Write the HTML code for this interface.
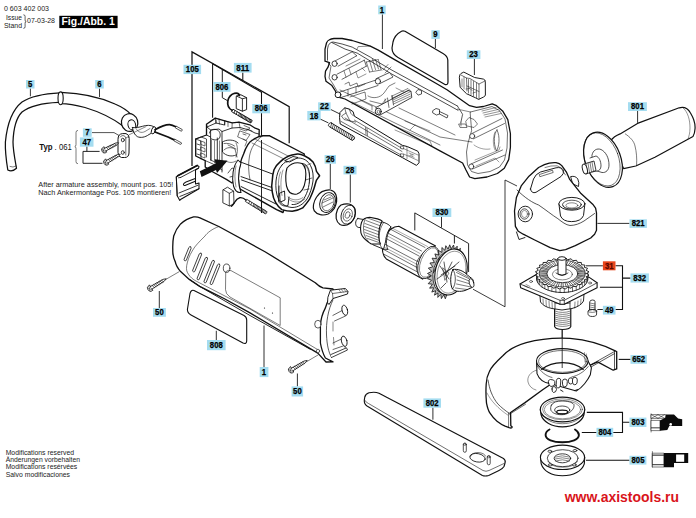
<!DOCTYPE html>
<html><head><meta charset="utf-8"><style>
html,body{margin:0;padding:0;background:#fff;width:696px;height:518px;overflow:hidden}
svg{display:block}
text{font-family:"Liberation Sans",sans-serif}
.lb{font-size:8.7px;font-weight:bold;text-anchor:middle;fill:#000;stroke:#000;stroke-width:0.25px}
.t{font-size:7.4px;fill:#222}
.s{fill:none;stroke:#111;stroke-linejoin:round;stroke-linecap:round}
.w{fill:#fff;stroke:#111;stroke-linejoin:round;stroke-linecap:round}
.th{fill:none;stroke:#222}
.ld{fill:none;stroke:#111}
</style></head><body>
<svg width="696" height="518" viewBox="0 0 696 518" stroke-width="0.9">
<text x="4" y="11.2" class="t" style="font-size:7.9px" textLength="45" lengthAdjust="spacingAndGlyphs">0 603 402 003</text>
<text x="6" y="20.3" class="t" style="font-size:7.9px" textLength="16" lengthAdjust="spacingAndGlyphs">Issue</text>
<text x="4" y="27.5" class="t" style="font-size:7.9px" textLength="18" lengthAdjust="spacingAndGlyphs">Stand</text>
<path d="M23.8,14.8 q1.3,0 1.3,1.6 v3.6 q0,1.6 1.1,1.6 q-1.1,0 -1.1,1.6 v3.6 q0,1.6 -1.3,1.6" class="s" stroke-width="0.65"/>
<text x="27" y="23" class="t" style="font-size:7.9px" textLength="28" lengthAdjust="spacingAndGlyphs">07-03-28</text>
<rect x="59.3" y="15.8" width="58.3" height="12.3" fill="#000"/>
<text x="61.5" y="25.2" style="font-size:10.4px;font-weight:bold;fill:#fff" textLength="53.3" lengthAdjust="spacingAndGlyphs">Fig./Abb. 1</text>
<text x="39.2" y="150.3" style="font-size:9px;font-weight:bold;fill:#111" textLength="13.3" lengthAdjust="spacingAndGlyphs">Typ</text>
<text x="54.6" y="150.3" class="t" style="font-size:9px;fill:#111" textLength="17.2" lengthAdjust="spacingAndGlyphs">. 061</text>
<text x="38.3" y="187.1" class="t" textLength="135" lengthAdjust="spacingAndGlyphs">After armature assembly, mount pos. 105!</text>
<text x="38.3" y="195" class="t" textLength="133" lengthAdjust="spacingAndGlyphs">Nach Ankermontage Pos. 105 montieren!</text>
<text x="5.7" y="454.7" class="t" textLength="68.3" lengthAdjust="spacingAndGlyphs">Modifications reserved</text>
<text x="5.7" y="462" class="t" textLength="74.3" lengthAdjust="spacingAndGlyphs">Änderungen vorbehalten</text>
<text x="5.7" y="469.4" class="t" textLength="71.6" lengthAdjust="spacingAndGlyphs">Modifications resérvées</text>
<text x="5.7" y="476.7" class="t" textLength="64.3" lengthAdjust="spacingAndGlyphs">Salvo modificaciones</text>
<text x="564.7" y="502" style="font-size:15px;font-weight:bold;fill:#d9141b" textLength="114.3" lengthAdjust="spacingAndGlyphs">www.axistools.ru</text>
<!-- cable 5 -->
<path d="M60,92.8 C45,93.5 31,96 22,102 C12,110 7,125 5.4,142 C5,152 6.5,162 7.8,170 Q12,172.5 16.5,168.3 C15,160 13,150 13,142 C13.5,128 16,118 22,112 C30,106 44,103 58.5,102.4" class="w" stroke-width="1.25"/>
<path d="M10,166.5 Q13,168 16,166" class="s" stroke-width="0.55"/>
<!-- cable 6 -->
<path d="M61,92.3 C80,93 100,97 115,104 C122,107 127,110 131,114.5 L123,126 C115,120 100,112 85,107.5 C76,105 68,103.5 61,103.5 Z" class="w" stroke-width="1.25"/>
<ellipse cx="60.6" cy="98.3" rx="2.6" ry="6.4" class="w" stroke-width="1.1"/>
<ellipse cx="129.6" cy="122.6" rx="8.2" ry="8.9" class="w" stroke-width="1.2" transform="rotate(-15 129.6 122.6)"/>
<ellipse cx="131.8" cy="124.8" rx="3.8" ry="5" class="w" stroke-width="1" transform="rotate(-15 131.8 124.8)"/>
<!-- sheath -->
<path d="M132.5,127.5 C133,131.5 134.5,135 137.5,136.7 C140.5,138 145,137.5 149,134.5 L154.5,131.5 L153.5,126.5 C150.5,125 146.5,125 142.5,126.3 C139,127.3 136,128 132.5,127.5 Z" class="w" stroke-width="0.9"/>
<path d="M136,128.5 C138,132 141,133.5 145,131.5 L150,128.5" class="s" stroke-width="0.5"/>
<ellipse cx="153.5" cy="130.3" rx="1.9" ry="3.8" class="w" stroke-width="0.9" transform="rotate(20 153.5 130.3)"/>
<path d="M155,129.8 C159,127.5 164,124.5 169.5,124.6 C172,124.8 174,125.8 176.2,127" class="s" stroke-width="1.80"/>
<path d="M155,132 C160,134 164,135.5 168,137 L174.7,140.1" class="s" stroke-width="1.80"/>
<path d="M176.3,126.2 L182.2,129.5 Q182.6,130.8 181.2,131.2 L175.6,128" class="w" stroke-width="0.72"/>
<path d="M174.8,139.2 L181.4,142.8 Q181.8,144.2 180.4,144.4 L174.2,141" class="w" stroke-width="0.72"/>
<path d="M129.3,134.7 L146,126.6" class="s" stroke-width="0.50"/>
<!-- clamp 7 -->
<path d="M118,139 Q118,134 122.5,133.6 L126,133.6 Q129.3,134.5 129.2,138.5 L129,153 Q128.8,157.6 124.5,157.5 L121.5,157.5 Q118,157 118,153 Z" class="w" stroke-width="1"/>
<path d="M120.3,137 Q121,135.5 123,135.5 Q125.5,135.8 125.8,138 L125.8,155 M125.8,138 Q127.5,136.5 129,137" class="s" stroke-width="0.6"/>
<ellipse cx="122.8" cy="140" rx="1.5" ry="1.8" class="w" stroke-width="0.8"/>
<ellipse cx="122.8" cy="152.5" rx="1.5" ry="1.8" class="w" stroke-width="0.8"/>
<!-- screws 47 -->
<g transform="translate(103.5,150.5) rotate(-27)"><path d="M0.5,-2.9 Q-1.6,-2.9 -1.6,0 Q-1.6,2.9 0.5,2.9 L2,2.9 L2,-2.9 Z" class="w" stroke-width="0.8"/>
<path d="M-0.8,-1.5 L1,1.5 M-0.8,1.5 L1,-1.5" class="s" stroke-width="0.45"/>
<path d="M2,-1.5 L14.5,-1.1 L17,0 L14.5,1.1 L2,1.5" class="w" stroke-width="0.75"/>
<path d="M4,-1.5 l0.8,3 M5.8,-1.45 l0.8,2.9 M7.6,-1.4 l0.8,2.8 M9.4,-1.35 l0.8,2.7 M11.2,-1.3 l0.8,2.6 M13,-1.2 l0.7,2.4" class="s" stroke-width="0.55"/></g>
<g transform="translate(105.5,162.7) rotate(-30)"><path d="M0.5,-2.9 Q-1.6,-2.9 -1.6,0 Q-1.6,2.9 0.5,2.9 L2,2.9 L2,-2.9 Z" class="w" stroke-width="0.8"/>
<path d="M-0.8,-1.5 L1,1.5 M-0.8,1.5 L1,-1.5" class="s" stroke-width="0.45"/>
<path d="M2,-1.5 L14.5,-1.1 L17,0 L14.5,1.1 L2,1.5" class="w" stroke-width="0.75"/>
<path d="M4,-1.5 l0.8,3 M5.8,-1.45 l0.8,2.9 M7.6,-1.4 l0.8,2.8 M9.4,-1.35 l0.8,2.7 M11.2,-1.3 l0.8,2.6 M13,-1.2 l0.7,2.4" class="s" stroke-width="0.55"/></g>
<!-- leaders -->
<path d="M30.4,88.5 V96.3 M99.5,88.5 V97" class="ld" stroke-width="0.82"/>
<path d="M92,132.6 H114 L119,135.5" class="ld" stroke-width="0.72"/>
<path d="M86.9,146.3 V151.4 M83,151.4 H99.6 M83,151.4 V163.3 H102.5" class="ld" stroke-width="0.92"/>
<path d="M77.6,130.4 Q76,130.4 76,132.5 V144.5 Q76,146.6 74.8,146.6 Q76,146.6 76,148.7 V161.6 Q76,163.7 77.6,163.7" class="s" stroke-width="0.55"/>
<!-- bracket lines 105/811/806 -->
<path d="M192,166 V51.9 L289.2,106.6 V143.3" class="ld" stroke-width="1.22"/>
<path d="M212.6,117.8 V63.7 L261.5,92.3 V213" class="ld" stroke-width="1.04"/>
<path d="M222.3,69.5 V97.7 L227,100.4" class="ld" stroke-width="0.94"/>
<path d="M242.8,72.4 V80.5" class="ld" stroke-width="1.04"/>
<!-- brush 806 upper -->
<path d="M236.6,96.1 L240.5,94.6 L246.6,97.7 L246.6,109.6 L242.4,111.2 L236.6,108.8 Z" class="w" stroke-width="0.94"/>
<path d="M236.6,96.1 L242.4,98.8 L246.6,97.7 M242.4,98.8 V111.2" class="s" stroke-width="0.84"/>
<path d="M239.5,95.5 C239,93.5 237,92.8 234.5,93.3 C231,94.5 228.5,97.5 227.8,101 C227.2,105 228.3,108.5 232.4,110.6" class="s" stroke-width="1.72"/>
<g transform="translate(232.6,110.6) rotate(30.5)"><rect x="0" y="-1.4" width="22" height="2.8" class="w" stroke-width="0.84"/>
<path d="M7,-1.4 l0.8,2.8 M8.5,-1.4 l0.8,2.8 M10,-1.4 l0.8,2.8 M11.5,-1.4 l0.8,2.8 M13,-1.4 l0.8,2.8 M14.5,-1.4 l0.8,2.8 M16,-1.4 l0.8,2.8 M17.5,-1.4 l0.8,2.8 M19,-1.4 l0.8,2.8 M20.5,-1.4 l0.8,2.8 M2,-1.4 l0.5,2.8 M4.5,-1.4 l0.5,2.8" class="s" stroke-width="0.72"/></g>
<!-- brush holder body -->
<path d="M206.5,124.2 L215.3,118.1 L224.8,120.8 L232.2,122.8 L239,122.1 L249.8,124.8 L255.2,128.2 L259.2,129.6 L259,140 L240,172 L232,183 L226.8,179.6 L213,172 L205.2,167 L205.2,160.6 L195.7,156 L195.7,139 L206.5,135 Z" class="w" stroke-width="1.32"/>
<path d="M206.5,124.2 L207,127 L216,123 L224.5,125 L224.8,120.8 M216,123 L216,120 M207,127 L210.6,130 L219,129 L222,131.5 L232,128 L240,127.5 L249,130 L255,133 L259,134" class="s" stroke-width="0.84"/>
<path d="M232.2,122.8 L232,128 M239,122.1 L240,127.5 M244,125.5 L250,128 L246,131 L240,129" class="s" stroke-width="0.60"/>
<path d="M210.6,130 L210.6,160 M217.3,138 L217.3,168 M222,131.5 L222,172 M206.5,135 L210.6,137" class="s" stroke-width="0.84"/>
<path d="M209.5,133 C210,129.5 214,128.5 217.5,130 C220,131.5 221,135 219.5,138 C218,140.5 213,140.5 211,138.5" class="s" stroke-width="0.84"/>
<path d="M195.7,139 L201,137 L206.5,139 L206.5,157 M195.7,139 L201,141 L201,159 M197,144 L200,145 M197,149 L200,150 M197,154 L200,155" class="s" stroke-width="0.72"/>
<path d="M222.5,142 C226,139.5 232,139.5 236,141.5 L238,143 M222.5,142 L222.5,152 C226,156 232,157 236,155" class="s" stroke-width="0.84"/>
<path d="M224,143.5 C227,143 231,143.5 234.5,146 M228,145 L236,149" class="s" stroke-width="0.60"/>
<path d="M224,150 C227,147 231,147 235,149 L237,157" class="s" stroke-width="0.60"/>
<path d="M240,131 L250,134.5 L246,140.5 L238,137 Z" class="s" stroke-width="0.60"/>
<path d="M243,134 L246,135" class="s" stroke-width="0.60"/>
<path d="M205.2,160.6 L213,164 L222,170 M210.6,160 L217,163" class="s" stroke-width="0.72"/>
<path d="M228,173 L232,168 L238,170 L236,177 M230,177 L234,176" class="s" stroke-width="0.72"/>
<path d="M215.3,118.1 L216,123 M219,119 L219.5,124 M224.8,120.8 L224.8,125 M228,121.8 L228,126.5" class="s" stroke-width="0.6"/>
<path d="M201,141 L205,142.5 L205,146 L201,144.5 Z M201,147 L205,148.5 L205,152 L201,150.5 Z M201,153 L205,154.5 L205,158 L201,156.5 Z" class="s" stroke-width="0.6"/>
<path d="M211.5,140 L211.5,160 M214.5,141 L214.5,163 M219.5,141 L219.5,166" class="s" stroke-width="0.5"/>
<path d="M236,143 C238,147 238,152 236,157 M226,161 C229,163 233,163 236,161" class="s" stroke-width="0.55"/>
<path d="M247,129 L252,131 M243,139 L247,141 L245,146" class="s" stroke-width="0.55"/>
<!-- arrow -->
<path d="M201.5,177 L216,170 L217,173 L227.5,160.8 L214.5,159.3 L215.6,163.6 L199.8,171.3 Z" fill="#111"/>
<!-- clip 105 -->
<path d="M177.7,175.8 L197.2,165.5 L199,166.5 L198.5,168.3 L195.5,170 L195.5,184 L199,183 L199,188.7 L180.5,199.5 L179.8,200.5 L177.2,195.7 L176.3,177 Z" class="w" stroke-width="1.04"/>
<path d="M177.7,175.8 L197.2,165.5" class="s" stroke-width="1.72"/>
<path d="M180.7,177.4 L198,168.3 M180.7,177.4 L178.5,177.8" class="s" stroke-width="0.84"/>
<path d="M195.3,178.6 L186,182 C183,183.3 182.6,185.5 185,185.5 L195.3,181.3" class="s" stroke-width="1.04"/>
<path d="M179,193 L198,185.2 M179.8,196.5 L199,188.7 M176.3,177 L177.2,195.7" class="s" stroke-width="0.84"/>
<!-- stator cylinder body -->
<path d="M243.6,154 C246,147 249,142 252.3,140.2 C256,137.5 259,136 262.7,135.8 L269.7,135.8 L304.4,154 L283,212.5 L276.6,209.6 L240,189 C237,182 238,166 243.6,154 Z" class="w" stroke-width="1.40"/>
<path d="M262.7,135.8 C255,141 251,148 249.5,156 C248,164 248.5,172 250,180" class="s" stroke-width="0.60"/>
<path d="M240.2,161.9 L274.9,174.9 M241,176.6 L273,187.9 M241.5,180 L272.5,191 M241,186.5 L276,204" class="s" stroke-width="0.92"/>
<path d="M255,139 L290,157 M252,143 L286,160" class="s" stroke-width="0.50"/>
<!-- left flange/ring -->
<path d="M238,160 C233,166 231.5,177 233.5,186 C235,191 238,193 241,192.5 C238,185 237.5,173 241,163 Z" class="w" stroke-width="1.02"/>
<path d="M236,166 C234.5,172 234.5,180 236,187" class="s" stroke-width="0.50"/>
<!-- front face -->
<path d="M280.1,161.9 C284,158 288,156 292,155 L297.4,154 C300,153.8 302,154.5 304.4,155.8 C308,157.5 311,159.5 313,161.9 C315,165 316,168 316.5,171.4 L319.6,175.7 L316.5,180.1 C315.5,183 314.8,186 313.9,188.8 C312.5,193 311,196 309.6,199.2 C307,203 305,205.5 302.7,207.9 C299,210 295.5,211 292.2,211.3 C288,211.3 284.5,210.5 281.8,209.6 C279,207.5 277,205 275.7,202.7 C273.5,199 272.8,196 272.3,192.2 C271.5,188 271.5,184 272.3,180.1 C272.5,176 273,173 274,169.7 C275.5,166.5 277.5,164 280.1,161.9 Z" class="w" stroke-width="1.50"/>
<path d="M282,165 C286,160.5 292,158.5 298,158 C304,158 308,161 310.5,165.5 C313,170 313.5,176 313,181 C312,188 310,194 307,199 C303,204.5 298,207.5 292,207.5 C286,207 281,204 278.5,199 C276,194 275.5,187 276,181 C276.5,175 278.5,169 282,165 Z" class="s" stroke-width="0.92"/>
<path d="M287,168 C291,163.5 297,162 302,163.5 C305.5,166 306.5,172 305.5,180 C304.5,187 302,192.5 297,194 C292,195 288,192 286.5,186 C285.5,180 285.5,173 287,168 Z" class="w" stroke-width="1.12"/>
<path d="M302,163.5 C306.5,163.5 309,168 309.5,174 C310,184 308,192 304,198.5 C300.5,203 296,205 292,204.5" class="s" stroke-width="0.92"/>
<path d="M305.5,180 L312,178 M304,190 L309,189" class="s" stroke-width="0.60"/>
<path d="M279,186 L278.5,201 C280,205 284,207 288,205.5 L289,197" class="s" stroke-width="0.92"/>
<path d="M280,193 L284.5,191 L285,200 L280.5,202 Z" class="w" stroke-width="0.92"/>
<path d="M285,160.5 L293,156.5 L298,157.5 L290,161.8 Z" class="w" stroke-width="0.92"/>
<path d="M286.5,162.5 L294,158.8" class="s" stroke-width="0.50"/>
<path d="M280.5,172 C278,178 277.8,188 279.5,196 M283,170 C280.5,177 280.3,188 282,195.5" class="s" stroke-width="0.45"/>
<path d="M288,197 C292,200.5 298,201 303,197.5 M289,199.5 C294,203 300,203 305,199" class="s" stroke-width="0.45"/>
<path d="M306,166 C309,170 310,177 309.5,183 M304,166.5 L311,163.5" class="s" stroke-width="0.45"/>
<!-- brush 806 lower -->
<path d="M223.2,189.7 L227.5,187.2 L233.6,191.1 L234,204 L229.3,205.9 L223.2,203 Z" class="w" stroke-width="0.82"/>
<path d="M223.2,189.7 L229.3,193.3 L233.6,191.1 M229.3,193.3 V205.9" class="s" stroke-width="0.72"/>
<path d="M231.3,206.3 C233,205 234,203 235.1,201.6 C236,200 237.5,198.5 239.5,197.8 C242,197.2 244,198.3 246.2,200.3" class="s" stroke-width="1.40"/>
<g transform="translate(246.4,200.6) rotate(31.5)"><rect x="0" y="-1.3" width="23.5" height="2.6" class="w" stroke-width="0.72"/>
<path d="M3,-1.3 l0.5,2.6 M5.5,-1.3 l0.5,2.6 M8,-1.3 l0.8,2.6 M9.5,-1.3 l0.8,2.6 M11,-1.3 l0.8,2.6 M12.5,-1.3 l0.8,2.6 M14,-1.3 l0.8,2.6 M15.5,-1.3 l0.8,2.6 M17,-1.3 l0.8,2.6 M18.5,-1.3 l0.8,2.6 M20,-1.3 l0.8,2.6 M21.5,-1.3 l0.8,2.6" class="s" stroke-width="0.60"/></g>
<!-- housing 1 top shell -->
<path d="M326.5,43 Q327.5,40.5 329,40 Q331,38.8 334,38.5 L342.1,38.5 L352.2,40.5 L362.2,43.6 L370.3,46.1 L378.3,50.1 L392,58.1 L435,82.8 L447,89.8 L469.6,105.7 L476.5,107.4 L483.5,106.5 L492.2,103.9 L496.5,105.7 L502.6,110.9 L507.8,119.6 L510.4,133.5 L510.4,147.4 L508.7,159.6 L504.3,168.3 L497.4,173.5 L487,177 L474.8,178.7 L469.6,177 L466,170 L462.6,163 L440,150.9 L345,99 L337.4,96.8 L335.4,91 L331.6,85.2 L326,81.3 L325,76.3 L325.5,71.2 L328,67.2 L329.5,62.7 L325,61.2 L325,49.1 Z" class="w" stroke-width="1.3"/>
<!-- rim lines -->
<path d="M327.5,60.2 L327.5,49.1 Q328,45 329.5,43.6 Q331,42.2 333,42 L342.1,44 L352.2,47.1 L356.7,49.6 L370.3,57.1 L378.3,62.2 L392,70.2 L435,93.7 L457.4,106" class="s" stroke-width="0.75"/>
<path d="M332,42.6 L345.1,49.1 L357.2,53.1 L392,74.2 L435,97.6 L458,110.3" class="s" stroke-width="0.75"/>
<path d="M356.7,49.6 L358.2,46.6 L370.3,46.1" class="s" stroke-width="0.5"/>
<path d="M457.4,106 L462.6,114.3 L460.9,122.2" class="s" stroke-width="0.7"/>
<path d="M328,63 L331,66 L330,72 L329,78 L333,84 L337,91" class="s" stroke-width="0.6"/>
<!-- front end inner -->
<path d="M470.5,112 L492,106.5 L499.5,110.5 L505,119 L507.5,133 L507,148 L504.5,160 L499.5,167 L490,171.5 L478,173.5 L471.5,171.5 L467.5,165 L466.5,152 L468,143 L471.5,131 Z" class="s" stroke-width="0.6"/>
<path d="M472,133.5 L502,118.5 M473.5,138.8 L504.5,123.5" class="s" stroke-width="0.6"/>
<path d="M471,164 L502.5,150 M472.5,169 L505,155" class="s" stroke-width="0.6"/>
<path d="M475,160 L499,150 L500,147 M476,166 L495,158 L499,162" class="s" stroke-width="0.4"/>
<path d="M497,130 C494,133 493,143 496.5,151 C499,147 500.5,137 497,130 Z" class="s" stroke-width="0.6"/>
<path d="M495,132 C492.5,138 493,146 495,150" class="s" stroke-width="0.4"/>
<path d="M474,145 C478,148 484,150 490,149" class="s" stroke-width="0.4"/>
<path d="M482,111 L496,107.5 M483,113 L498,109.5 M484,115 L499.5,111.5 M485,117 L501,113.5" class="s" stroke-width="0.45"/>
<ellipse cx="472.2" cy="136.1" rx="2.5" ry="2.5" class="w" stroke-width="0.7"/>
<ellipse cx="471.3" cy="166.5" rx="2.5" ry="2.5" class="w" stroke-width="0.7"/>
<path d="M466,121 L469,117.5 L474,119.5 L477.5,124 L474,127.5 L467,126 Z" class="s" stroke-width="0.55"/>
<path d="M459,124 L465.5,124 L467,127.5 L460.5,127.5 Z" class="w" stroke-width="0.55"/>
<path d="M460.9,122.2 L461,126 M457.4,109.1 L470.5,112" class="s" stroke-width="0.5"/>
<!-- lower interior lines -->
<path d="M340,90 L440,137 L472,142 M352,102 L440,145" class="s" stroke-width="0.55"/>
<path d="M405,121 L430,131 M415,125 L410,130" class="s" stroke-width="0.45"/>
<!-- back interior ribs & bosses -->
<path d="M335.1,60.9 L352.2,51.8 M338.1,66.2 L356.7,55.8 M352.2,51.8 L356.7,55.8" class="s" stroke-width="0.65"/>
<path d="M337,74.2 L364.3,60.2 M342,79.3 L366.3,66.2 M364.3,60.2 L366.3,66.2" class="s" stroke-width="0.65"/>
<path d="M340,92 L376,80 M341,97.5 L378,85.5" class="s" stroke-width="0.65"/>
<path d="M344,71 L346,77 M349,68.5 L351,74.5 M346,66 L360,59" class="s" stroke-width="0.5"/>
<path d="M345,84 L349,82 L350,86 L357,83 L358,87 L365,84" class="s" stroke-width="0.55"/>
<path d="M348,90 L348,96 M356,87 L356,93 M350,97 L365,92 L366,99 L352,104" class="s" stroke-width="0.55"/>
<path d="M366.3,62 L369.5,72 M369.5,60.5 L372.5,70.5 M372.5,59.5 L375.5,69.5 M375.5,59.5 L378.5,69 M378.5,60.5 L381,69.5 M366.3,62 L378.5,59.5 M369.5,72 L381.5,70" class="s" stroke-width="0.55"/>
<path d="M356,72 L358,78 L366,74 M362,68 L365,71" class="s" stroke-width="0.45"/>
<path d="M383,70 L388,64.5 M385,73 L391,67" class="s" stroke-width="0.5"/>
<ellipse cx="334.6" cy="63.7" rx="2.6" ry="2.7" class="w" stroke-width="0.8"/>
<ellipse cx="334.6" cy="77.3" rx="2.6" ry="2.7" class="w" stroke-width="0.8"/>
<ellipse cx="338" cy="94.8" rx="2.9" ry="2.9" class="w" stroke-width="0.95"/>
<!-- mid boss cylinder -->
<path d="M376.5,78.5 L389.5,72.5 L393,77 L380,83.5 Z" class="w" stroke-width="0.7"/>
<ellipse cx="377.9" cy="81.3" rx="2.6" ry="2.8" class="w" stroke-width="0.8"/>
<path d="M368,96 C373,99 380,98 384,93 L389,86 L395,83 M370,101 L382,104 L386,99" class="s" stroke-width="0.55"/>
<path d="M360,100 L372,106 M372,106 L372,110" class="s" stroke-width="0.5"/>
<path d="M385,99 L385,105 M392,96 L392,101 M396,88 L408,94" class="s" stroke-width="0.45"/>
<!-- long pin w/ splines -->
<path d="M376,107.5 L408,90.5 L411,91.5 L411.8,97.5 L381,114.5 Z" class="w" stroke-width="0.8"/>
<ellipse cx="378.3" cy="111.5" rx="3" ry="3.3" class="w" stroke-width="0.9"/>
<ellipse cx="378.6" cy="111.8" rx="1.4" ry="1.6" class="s" stroke-width="0.5"/>
<path d="M387.5,98 L389,107.5 M392,95.5 L393.5,105" class="s" stroke-width="0.6"/>
<path d="M392,96 L408,88.5 L411,91.5 M392.5,98 L409,90.3 M393,100 L409.5,92.2 M393.2,102 L410,94.2 M393.5,104 L410.5,96.2" class="s" stroke-width="0.5"/>
<path d="M399,108 L455,135" class="s" stroke-width="0.55"/>
<!-- small pins -->
<path d="M416,92 L418,89.5 L421.5,90.5 L421.5,94 L418.5,95 Z" class="w" stroke-width="0.72"/>
<path d="M433,110.5 L436,108.5 L439.5,109.5 L439.5,114 L436.5,115 L433,113 Z M439.5,111.5 L448,115.5 L447,118 L439.5,114" class="w" stroke-width="0.72"/>
<!-- spring/switch rail slots -->
<path d="M392,125 L430,141 L432,146 L395,130" class="s" stroke-width="0.45"/>
<!-- plate 9 -->
<path d="M401.5,31.2 Q403,30.5 405,31.3 L443,53.5 Q447.5,56 447.8,60 L448,82 Q447.8,85.5 445,84.5 L398,57.5 Q392,54 392,48 L393,42 Q394.5,35 401.5,31.2 Z" class="w" stroke-width="1.20"/>
<!-- part 23 -->
<path d="M459.4,76.8 Q459.8,73.8 461.1,73.4 L463.8,72.1 L474.6,77.5 L483.4,79.1 Q485.2,79.6 485.3,81.5 L485.4,95 Q485,96.6 483.4,97.1 L478.6,99.4 L475.3,97.7 L466.5,93.7 L460.4,87.6 Z" class="w" stroke-width="0.95"/>
<path d="M461,75 L466.5,78 L467,91 M466.5,78 L470,78.5 L479,84 L479,99 M479,84 L485,81" class="s" stroke-width="0.6"/>
<path d="M462,79 L462,87 M464,77 L464,89" class="s" stroke-width="0.5"/>
<path d="M468.5,79.5 L468.5,93 M471,80 L471,94.5 M473.5,81.5 L473.5,96 M476.5,83 L476.5,97.5 M467,86 L479,91.5" class="s" stroke-width="0.55"/>
<path d="M466,89 L470,88.5 L472,90.5 M473,93 L476,92" class="s" stroke-width="0.5"/>
<!-- switch rod 22 -->
<path d="M340.2,112.3 L344.7,107.8 L349.2,109.1 L353.1,111.7 L354.4,116.2 L402.3,145.3 L407.4,146.6 L417.8,151.2 L419,153.7 L419,162.8 L416.5,165.4 L402.3,157.6 L340.2,124 L339.6,118 Z" class="w" stroke-width="1"/>
<path d="M354.4,120.1 L402.3,148.6 M341,121.4 L401,155 M345,118 L402,151.5" class="s" stroke-width="0.6"/>
<path d="M344.7,107.8 L346,113 L350,121 L355.7,122 M346,113 L341.5,116 L344,119.5 L350,121 M349.2,109.1 L351,113.5 L353.5,116" class="s" stroke-width="0.6"/>
<path d="M365.5,127.5 L366,134.5 M367,128.5 L367.5,135.5" class="s" stroke-width="0.55"/>
<path d="M401,146 L403.6,146.6 L403.6,149 L401,148.6 Z M401,153.7 L403.6,154.2 L403.6,156.8 L401,156.3 Z" class="w" stroke-width="0.55"/>
<path d="M403.6,148.6 L418,155 M403.6,154 L418,160.5 M407,147 L407,158.5" class="s" stroke-width="0.45"/>
<path d="M409,153 l2,0.8 l-0.3,2.4 l-2,-0.8 M412,154.2 l2,0.8 M412,156.5 l2,0.8 M412,154.2 l0,2.4" class="s" stroke-width="0.4"/>
<!-- spring 18 -->
<g transform="translate(329,124) rotate(31)">
<rect x="0" y="-2.1" width="29" height="4.2" rx="1.5" class="w" stroke-width="0.82"/>
<path d="M2,-2 l1,4 M4,-2 l1,4 M6,-2 l1,4 M8,-2 l1,4 M10,-2 l1,4 M12,-2 l1,4 M14,-2 l1,4 M16,-2 l1,4 M18,-2 l1,4 M20,-2 l1,4 M22,-2 l1,4 M24,-2 l1,4 M26,-2 l1,4" class="s" stroke-width="0.60"/>
<ellipse cx="28" cy="0" rx="1.2" ry="2" class="w" stroke-width="0.72"/>
</g>
<!-- handle 801 -->
<path d="M610.6,140.8 C613,137.5 616,135.5 620.1,133.9 L637.5,123.4 L679.2,107.8 C684,106.5 688,108.5 690.5,113 C693.5,118 695.5,124 695,129 C694.8,132.5 694,135 693,136.5 L654.9,157.3 L635.8,166 L623.6,168.6 Z" class="w" stroke-width="1.20"/>
<path d="M625.3,133.9 C630,137 634,141 635,146 C636.5,152 637,158 636.6,165.1" class="s" stroke-width="0.55"/>
<path d="M683,107.8 C688,112 690,120 690,128 C690,133 689,136 688,139" class="s" stroke-width="0.45"/>
<!-- disc -->
<ellipse cx="603" cy="159.8" rx="17.8" ry="28.6" transform="rotate(-20 603 159.8)" class="w" stroke-width="1.2"/>
<ellipse cx="601.8" cy="159.4" rx="16.8" ry="27.6" transform="rotate(-20 601.8 159.4)" class="s" stroke-width="0.55"/>
<!-- hub -->
<path d="M592,155 C593,150 597,148 601,149.5 C606,152 609,158 609,165 C609,170 606,173 602,172.5 L594,170 Z" class="w" stroke-width="0.72"/>
<path d="M590,158 L596,156 C599,157 601,161 601,166 C601,169 599,171 597,171 L592,172" class="w" stroke-width="0.72"/>
<!-- stud -->
<path d="M584,164 L594,161 L596,170.5 L586,174 Z" class="w" stroke-width="0.82"/>
<path d="M586,163.5 l1.5,9.5 M588,163 l1.5,9.5 M590,162.4 l1.5,9.4 M592,161.8 l1.5,9.3" class="s" stroke-width="0.55"/>
<ellipse cx="584.8" cy="169" rx="2.3" ry="5" transform="rotate(-15 584.8 169)" class="w" stroke-width="0.92"/>
<!-- gear housing 821 -->
<path d="M571,176.5 Q575.5,175.5 577.8,179 Q579.5,182.5 578.5,186.5 L573,184 Z" class="w" stroke-width="0.9"/>
<path d="M544.4,164.7 Q550,162.3 556,162.7 Q559.5,163.3 561.8,165.6 L566.6,172.4 L569.5,179.1 L581,193.6 L592.7,204.2 L595.6,208.1 L596.5,212.9 L596.5,230.3 L594.6,234.2 L590.7,238 L575.3,245.7 L565.6,249.6 L559.8,250.6 L550.2,247.7 L534.7,240 L523.2,234.2 L518.3,231.3 L515.4,226.4 L514.5,211 L516.4,197.5 L521.2,185.9 L529,176.2 L538.6,167.5 Z" class="w" stroke-width="1.30"/>
<path d="M516.5,232 L519,239.5 L525,237.5" class="w" stroke-width="0.92"/>
<!-- inner top outline -->
<path d="M545,167.5 Q551,165.3 557,165.8 Q560,166.5 561.5,169 L565.5,175" class="s" stroke-width="0.55"/>
<!-- slot -->
<path d="M530.5,189 L533.5,179 Q535.5,174 540.5,172 L556,167.8 Q561.5,166.8 563.3,170 Q564.5,173.5 561,176.5 L536,192.3 Q531.5,194 530.5,189 Z" class="s" stroke-width="0.95"/>
<path d="M539.6,174.5 L552.5,170.2 L553.2,172.5 L540.2,176.6 Z" class="s" stroke-width="0.6"/>
<!-- face border -->
<path d="M517,190 C525,198 533,203 538.6,205 C546,210 552,215 557.9,218.7 C562,222 566,225 570,225.5 C575,225.5 580,223.5 584,221 L594.6,213.5" class="s" stroke-width="0.72"/>
<!-- boss -->
<path d="M558.9,203.8 L560.5,216 Q563,221.6 571.6,221.6 Q581,221.6 583.5,215.5 L584.9,203.8" class="w" stroke-width="0.95"/>
<ellipse cx="571.9" cy="203.8" rx="13" ry="6.4" class="w" stroke-width="0.95"/>
<ellipse cx="571.9" cy="204.6" rx="9.4" ry="4.4" class="s" stroke-width="0.7"/>
<ellipse cx="571.9" cy="205.4" rx="6" ry="2.6" class="s" stroke-width="0.5"/>
<path d="M562.7,205 Q563,209 571.9,209.2 Q580.8,209 581.2,205" class="s" stroke-width="0.5"/>
<!-- left hole -->
<ellipse cx="525.3" cy="214" rx="7.2" ry="7.8" class="w" stroke-width="0.92"/>
<ellipse cx="524.5" cy="214" rx="4.5" ry="5.2" class="s" stroke-width="0.72"/>
<ellipse cx="524.5" cy="214" rx="3" ry="3.6" class="s" stroke-width="0.45"/>
<!-- bearing 26 -->
<path d="M322,191.6 Q327,189.5 330.5,190 Q334.5,191 335.9,194.7 Q337,198 336.6,201.6 Q336,205 334.3,208.5 Q331.5,212.5 328.1,214 Q324,215.5 320.4,214.7 Q316,213.5 314.3,210.9 Q312.8,207.5 313.5,204.7 Q314.5,200 316.6,197 Q319,193.2 322,191.6 Z" class="w" stroke-width="1.20"/>
<ellipse cx="327.6" cy="202.6" rx="7.6" ry="10.2" transform="rotate(20 327.6 202.6)" class="s" stroke-width="0.92"/>
<ellipse cx="328" cy="202.8" rx="5.8" ry="8.3" transform="rotate(20 328 202.8)" class="s" stroke-width="0.55"/>
<path d="M322,203 L333,198 M323,207 L333,202 M324,200 L331,197" class="s" stroke-width="0.55"/>
<!-- bearing 28 -->
<path d="M341,205 Q345,203.5 349,204 Q353.5,205 355,209 Q356,213 354.5,217.5 Q352,223 347,225 Q343,226 340,224.5 Q337,222.5 336.2,218.5 Q335.5,214 337.5,209.5 Q339,206.5 341,205 Z" class="w" stroke-width="1.20"/>
<ellipse cx="348.2" cy="214.7" rx="6.8" ry="9.8" transform="rotate(20 348.2 214.7)" class="s" stroke-width="0.82"/>
<ellipse cx="347.8" cy="215" rx="4.4" ry="6.3" transform="rotate(20 347.8 215)" class="s" stroke-width="0.55"/>
<ellipse cx="347.6" cy="215" rx="2.3" ry="3.4" transform="rotate(20 347.6 215)" class="s" stroke-width="0.55"/>
<!-- armature: shaft -->
<path d="M357.8,218.5 L363.5,219.5 L363.8,227.8 L358.2,227.4 C355,226.5 354.6,220.5 357.8,218.5 Z" class="w" stroke-width="0.9"/>
<!-- core -->
<path d="M398.8,226.3 L435.2,245.7 L430,262 L422.7,279 L386.3,258.9 C383,256 382,250 382.5,245 C383,238 387,232 391,229 C393.5,227 396,226.3 398.8,226.3 Z" class="w" stroke-width="1.1"/>
<path d="M435.2,245.7 C428,248.5 419,255 416.6,262.7 C415.6,270 418,276 422.7,279" class="s" stroke-width="0.7"/>
<path d="M433,248 C426,251 420,256 418.6,262.7 C417.8,269 419.5,274 423.5,277" class="s" stroke-width="0.5"/>
<path d="M391,229.5 L425,247.5 M387.8,233 L421.5,251 M385,238 L419,256 M383.5,243.5 L417.5,261.5 M382.8,249 L417,267.5 M383.5,254 L418.5,272.5" class="s" stroke-width="0.6"/>
<path d="M393,228.5 L427.5,246.5 M386.5,235.5 L420,253.5 M383,246.5 L417.2,264.5" class="s" stroke-width="0.35"/>
<!-- neck -->
<path d="M377.5,220.5 L384,222.5 C387,223.5 389.5,225 391,227 C388,230 386,236 385.5,242 L383.5,249.2 L372.8,244.7 L370,240 Z" class="w" stroke-width="0.9"/>
<path d="M383.6,222.6 C380.5,227 378.5,234 379,240 C379.3,243.5 380.5,246.5 382.5,248.7" class="s" stroke-width="0.6"/>
<path d="M391,227 C388.5,231 387,236 386.5,241 C386.3,244.5 386.8,247 388,249.5 L383.5,249.2" class="s" stroke-width="0.8"/>
<!-- commutator -->
<path d="M361.5,222.5 C362.5,219.5 365,217.6 369.7,217.3 L377.5,218.9 C380,219.6 381.5,220.4 382.1,221.2 C379.8,225 378.5,231 378.8,237 C379,240.5 379.6,242.5 380.5,244 L371.3,244 C368,242 364,239 362,235.5 C360,232 360.3,226 361.5,222.5 Z" class="w" stroke-width="1.1"/>
<path d="M365,219.5 C363.5,223 363,228 364,233.5 C365,237 366.5,239.5 368.5,241.5" class="s" stroke-width="0.6"/>
<path d="M367.5,218 L381.5,223 M366,220.5 L380.2,225.8 M365,223.5 L379.4,228.8 M364.5,226.5 L379,231.8 M364.5,229.5 L378.9,234.8 M365,232.5 L379,237.8 M366,235.5 L379.4,240.5 M367.5,238.5 L379.8,242.8" class="s" stroke-width="0.55"/>
<!-- fan teeth ring -->
<ellipse cx="428.5" cy="262.5" rx="9.5" ry="17" transform="rotate(22 428.5 262.5)" class="w" stroke-width="0.8"/>
<ellipse cx="429" cy="262.5" rx="8.2" ry="15.6" transform="rotate(22 429 262.5)" class="s" stroke-width="0.45"/>
<path d="M446.9,294.5 L445.3,298.8 L443.8,294.8 L441.4,298.6 L440.8,294.3 L437.8,297.4 L438.0,292.9 L434.5,295.2 L435.7,290.7 L431.8,292.1 L433.7,287.7 L429.6,288.2 L432.4,284.2 L428.2,283.7 L431.5,280.1 L427.4,278.7 L431.4,275.8 L427.5,273.5 L431.8,271.3 L428.3,268.2 L432.8,266.8 L429.9,263.0 L434.4,262.5 L432.1,258.2 L436.5,258.6 L434.9,253.9 L439.0,255.1 L438.2,250.3 L441.9,252.4 L441.9,247.5 L444.9,250.3 L445.8,245.7 L448.1,249.1 L449.7,244.8 L451.2,248.8 L453.6,245.0 L454.2,249.3 L457.2,246.2 L457.0,250.7 L460.5,248.4 L459.3,252.9 L458.4,254.1 L454.6,251.1 L450.1,250.3 L445.4,251.8 L440.8,255.4 L437.0,260.7 L434.2,267.3 L432.9,274.3 L433.2,281.0 L434.9,286.8 L438.0,291.0 L442.1,293.1 L446.8,293.0 Z" fill="#bbb" stroke="#111" stroke-width="0.8" stroke-linejoin="round"/>
<!-- fan disc -->
<ellipse cx="451" cy="272" rx="15.6" ry="23.4" transform="rotate(15 451 272)" class="w" stroke-width="1.1"/>
<ellipse cx="451.5" cy="272.2" rx="13.8" ry="21.4" transform="rotate(15 451.5 272.2)" class="s" stroke-width="0.4"/>
<path d="M440,266 L449,279 M444,262 L447,282 M441,275 L455,266 M445,276 L452,262 M437,279 L447,272 L459,262 M446,283 L441,288" class="s" stroke-width="0.7"/>
<path d="M443,268 L449,273 L445,280 Z" class="s" stroke-width="0.5"/>
<!-- pinion -->
<path d="M453,269.5 C458,268.5 464,271 468.5,276 L472.5,279 C474,281.5 474,285 472,287.5 L465,290.5 C460,292 455,291.5 452.5,289 C450,285 450,274 453,269.5 Z" class="w" stroke-width="1"/>
<path d="M455.5,270 L469,277.5 M456.5,272.5 L470.5,279.5 M457,276 L471.5,282 M457,280 L472,284.5 M456.5,284 L471,287 M455.5,288 L467,289.5" class="s" stroke-width="0.55"/>
<ellipse cx="471.5" cy="283" rx="2.2" ry="4.5" transform="rotate(-15 471.5 283)" class="w" stroke-width="0.8"/>
<path d="M453,269.5 C456,274 456.5,284 452.5,289" class="s" stroke-width="0.7"/>
<!-- bracket 830 -->
<path d="M414.8,230.4 V212.9 L468.6,243.5 V272 M454.4,235.2 V243.5" class="ld" stroke-width="0.92"/>
<!-- motor housing 1 (bottom) -->
<path d="M193.6,216.9 Q197,216.5 200,217.8 L218.8,226.5 L265,251.7 L315.3,282.7 Q319,286.5 322.9,287.8 L333,289 L335.4,292.8 Q328,298 325.4,307.9 Q321,316 320.4,325.5 L320.4,343 Q322,352 325.4,358 L333,361.9 L326,362 L317.8,353.1 L250,312.9 L224,298.5 L213.6,293.3 L199.7,286.4 L189.3,279.4 L180.6,271.6 Q176,266 175.4,262.1 Q172.5,256 172.8,250 Q172.5,242 173.7,236 Q176,229 180.6,223.9 Q186,219 193.6,216.9 Z" class="w" stroke-width="1.30"/>
<!-- seam -->
<path d="M218.8,226.5 C212,229 207,233 205,236 C199,242 195,246 192.8,250 C189,256 187.5,261 186.7,265.6 C186,270 187,272 188.4,274.2 C190,277 193,279.5 196.3,281.2 L250,309 L317.5,349.5" class="s" stroke-width="0.55"/>
<path d="M189.3,279.4 L199.7,286.4 L250,315.5 L310.3,349.3" class="s" stroke-width="0.92"/>
<!-- vents -->
<g class="w" stroke-width="0.72">
<rect x="-1.2" y="-7.5" width="2.4" height="15" rx="1.2" transform="translate(187.6,253.8) rotate(22)"/>
<rect x="-1.2" y="-10" width="2.4" height="20" rx="1.2" transform="translate(197.1,262.5) rotate(22)"/>
<rect x="-1.2" y="-12" width="2.4" height="24" rx="1.2" transform="translate(202.3,268.6) rotate(22)"/>
<rect x="-1.2" y="-12" width="2.4" height="24" rx="1.2" transform="translate(209.2,271.6) rotate(22)"/>
<rect x="-1.2" y="-11" width="2.4" height="22" rx="1.2" transform="translate(215,274.3) rotate(22)"/>
</g>
<ellipse cx="226.6" cy="268.2" rx="3.3" ry="4.2" class="w" stroke-width="0.72"/>
<!-- label area -->
<path d="M226,271.5 Q228,269.5 231,270.6 L280.2,297.8 L280.2,325.5 L230,297 Q225.5,294 225.5,290 Z" class="s" stroke-width="0.55"/>
<circle cx="264.5" cy="308" r="0.6" fill="#111"/>
<circle cx="272.5" cy="313" r="0.6" fill="#111"/>
<!-- front collar -->
<path d="M328,297 L330.4,290.2 L345.4,288.5 L348,291.5 L347.5,294 L333,298.5 L329,304.5 L327.8,303 Z" class="w" stroke-width="0.95"/>
<path d="M330.4,290.2 L332.5,293.5 L347.5,291.5 M332.5,293.5 L333,298.5" class="s" stroke-width="0.6"/>
<path d="M339,289.8 L341,292.5 M341.5,289.5 L343.5,292.2 M344,289 L346,291.8" class="s" stroke-width="0.45"/>
<path d="M332.9,300 C328,310 326,322 326.5,335 C327,345 328.5,352 331.5,357.5" class="s" stroke-width="0.7"/>
<path d="M332.9,315.4 L344,309.5 M334.5,321 L345.5,316 M333,343 L343.5,338 M333,349.5 L344.5,345.5 L346,350" class="s" stroke-width="0.65"/>
<path d="M333,322 L333,331 M333.5,337.5 L334,345" class="s" stroke-width="0.5"/>
<ellipse cx="344.8" cy="310.3" rx="2.7" ry="5.2" transform="rotate(-15 344.8 310.3)" class="w" stroke-width="0.85"/>
<ellipse cx="344.2" cy="341.2" rx="2.7" ry="5.2" transform="rotate(-15 344.2 341.2)" class="w" stroke-width="0.85"/>
<path d="M331.5,357.5 L347.5,350 L346.5,347.8 L331,354.5" class="w" stroke-width="0.8"/>
<ellipse cx="317.8" cy="324.2" rx="3.1" ry="3.8" class="w" stroke-width="0.7"/>
<ellipse cx="318" cy="351" rx="1.6" ry="1.8" class="w" stroke-width="0.6"/>
<!-- plate 808 -->
<path d="M194,290.5 L244,315.5 Q246.7,317 246.7,320 L246.7,341 Q246.5,344.5 243,343 L191,315 Q187.4,313 187.4,309.5 L190,293.5 Q191,289.5 194,290.5 Z" class="w" stroke-width="1.10"/>
<!-- screw 50 left -->
<g transform="translate(149.5,288.8) rotate(-31)"><path d="M0.5,-3 Q-1.7,-3 -1.7,0 Q-1.7,3 0.5,3 L2,3 L2,-3 Z" class="w" stroke-width="0.8"/>
<path d="M-0.8,-1.5 L1,1.5 M-0.8,1.5 L1,-1.5" class="s" stroke-width="0.45"/>
<path d="M2,-1.5 L16.5,-1.1 L19.5,0 L16.5,1.1 L2,1.5" class="w" stroke-width="0.75"/>
<path d="M4,-1.5 l0.8,3 M5.8,-1.45 l0.8,2.9 M7.6,-1.4 l0.8,2.8 M9.4,-1.35 l0.8,2.7 M11.2,-1.3 l0.8,2.6 M13,-1.25 l0.7,2.5 M14.8,-1.2 l0.7,2.4" class="s" stroke-width="0.55"/></g>
<path d="M166.4,279.1 L179,271.8" class="s" stroke-width="0.55"/>
<!-- screw 50 right -->
<g transform="translate(290.5,370.5) rotate(-31)"><path d="M0.5,-3 Q-1.7,-3 -1.7,0 Q-1.7,3 0.5,3 L2,3 L2,-3 Z" class="w" stroke-width="0.8"/>
<path d="M-0.8,-1.5 L1,1.5 M-0.8,1.5 L1,-1.5" class="s" stroke-width="0.45"/>
<path d="M2,-1.5 L16.5,-1.1 L19.5,0 L16.5,1.1 L2,1.5" class="w" stroke-width="0.75"/>
<path d="M4,-1.5 l0.8,3 M5.8,-1.45 l0.8,2.9 M7.6,-1.4 l0.8,2.8 M9.4,-1.35 l0.8,2.7 M11.2,-1.3 l0.8,2.6 M13,-1.25 l0.7,2.5 M14.8,-1.2 l0.7,2.4" class="s" stroke-width="0.55"/></g>
<path d="M307,361.5 L318,355" class="s" stroke-width="0.55"/>
<!-- flange 832: spindle -->
<path d="M554.6,309 L554.6,326.5 Q556,329.5 562.5,329.5 Q569.5,329.5 570.8,326.5 L570.8,309" class="w" stroke-width="1.10"/>
<path d="M554.8,311 Q562.6,314 570.6,311 M554.8,313 Q562.6,316 570.6,313 M554.8,315 Q562.6,318 570.6,315 M554.8,317 Q562.6,320 570.6,317 M554.8,319 Q562.6,322 570.6,319 M554.8,321 Q562.6,324 570.6,321 M554.8,323 Q562.6,326 570.6,323 M554.8,325 Q562.6,328 570.6,325" class="s" stroke-width="0.50"/>
<!-- bearing housing below plate -->
<path d="M539.8,294 L540.5,302 Q544,307 552,308.5 L562,310 L572,308.5 Q581,306 583.5,301 L584,294 Z" class="w" stroke-width="0.92"/>
<path d="M543,299 l0.3,5 M546,300 l0.3,6 M549,301 l0.3,6 M552,302 l0.3,6 M575,302 l-0.3,6 M578,301 l-0.3,5 M581,299 l-0.3,5" class="s" stroke-width="0.50"/>
<path d="M555,302.5 L555,309 M570,302.5 L570,309 M555,303 Q562,305.5 570,303" class="s" stroke-width="0.72"/>
<!-- plate -->
<path d="M520,284 L536.3,274.6 L588.9,277.1 L597.1,282.8 L597.1,287.8 L564.3,304.2 L560,304.2 L520.7,287.8 Z" class="w" stroke-width="1.10"/>
<path d="M520,284 L560,300.3 L564.3,300.3 L597.1,282.8 M560,300.3 L560,304.2 M564.3,300.3 L564.3,304.2" class="s" stroke-width="0.72"/>
<ellipse cx="531" cy="281.5" rx="1.5" ry="1" class="s" stroke-width="0.55"/>
<ellipse cx="590" cy="283" rx="1.5" ry="1" class="s" stroke-width="0.55"/>
<ellipse cx="563" cy="298.5" rx="1.5" ry="1" class="s" stroke-width="0.55"/>
<path d="M524,285.5 l4,2 M526,284.5 l4,2" class="s" stroke-width="0.45"/>
<!-- gear ring -->
<path d="M536.5,274 L536.7,280 C538,287 549,292.5 562.2,292.5 C575.5,292.5 586.5,287 587.8,280 L588,274 Z" class="w" stroke-width="0.9"/>
<path d="M587.4,275.8 l0,4.5 M586.4,278.1 l0,4.5 M584.7,280.3 l0,4.5 M582.4,282.3 l0,4.5 M579.6,284.1 l0,4.5 M576.2,285.6 l0,4.5 M572.5,286.8 l0,4.5 M568.5,287.6 l0,4.5 M564.3,287.9 l0,4.5 M560.1,287.9 l0,4.5 M555.9,287.6 l0,4.5 M551.9,286.8 l0,4.5 M548.2,285.6 l0,4.5 M544.8,284.1 l0,4.5 M542.0,282.3 l0,4.5 M539.7,280.3 l0,4.5 M538.0,278.1 l0,4.5 M537.0,275.8 l0,4.5" class="s" stroke-width="0.6"/>
<path d="M586.7,273.5 L589.0,275.2 L586.1,276.7 L587.6,278.7 L584.3,279.7 L585.0,281.8 L581.4,282.4 L581.3,284.5 L577.5,284.6 L576.5,286.7 L572.8,286.3 L571.1,288.2 L567.7,287.3 L565.2,289.0 L562.2,287.7 L559.2,289.0 L556.7,287.3 L553.3,288.2 L551.6,286.3 L547.9,286.7 L546.9,284.6 L543.1,284.5 L543.0,282.4 L539.4,281.8 L540.1,279.7 L536.8,278.7 L538.3,276.7 L535.4,275.2 L537.7,273.5 L535.4,271.8 L538.3,270.3 L536.8,268.3 L540.1,267.3 L539.4,265.2 L543.0,264.6 L543.1,262.5 L546.9,262.4 L547.9,260.3 L551.6,260.7 L553.3,258.8 L556.7,259.7 L559.2,258.0 L562.2,259.3 L565.2,258.0 L567.7,259.7 L571.1,258.8 L572.8,260.7 L576.5,260.3 L577.5,262.4 L581.3,262.5 L581.4,264.6 L585.0,265.2 L584.3,267.3 L587.6,268.3 L586.1,270.3 L589.0,271.8 L586.7,273.5 Z" class="w" stroke-width="0.9"/>
<ellipse cx="562.2" cy="273.5" rx="23" ry="13.3" class="s" stroke-width="0.6"/>
<path d="M577.7,273.1 L585.2,272.8 M577.7,273.9 L585.2,274.2 M577.5,275.1 L584.9,275.8 M577.1,275.9 L584.3,277.1 M576.5,277.0 L583.4,278.7 M575.8,277.8 L582.4,279.9 M574.8,278.8 L580.9,281.3 M573.8,279.5 L579.4,282.3 M572.5,280.2 L577.4,283.5 M571.2,280.8 L575.6,284.3 M569.6,281.4 L573.2,285.2 M568.2,281.8 L571.1,285.8 M566.4,282.2 L568.4,286.3 M564.9,282.4 L566.2,286.6 M563.0,282.5 L563.3,286.8 M561.4,282.5 L561.1,286.8 M559.5,282.4 L558.2,286.6 M558.0,282.2 L556.0,286.3 M556.2,281.8 L553.3,285.8 M554.8,281.4 L551.2,285.2 M553.2,280.8 L548.8,284.3 M551.9,280.2 L547.0,283.5 M550.6,279.5 L545.0,282.3 M549.6,278.8 L543.5,281.3 M548.6,277.8 L542.0,279.9 M547.9,277.0 L541.0,278.7 M547.3,275.9 L540.1,277.1 M546.9,275.1 L539.5,275.8 M546.7,273.9 L539.2,274.2 M546.7,273.1 L539.2,272.8 M546.9,271.9 L539.5,271.2 M547.3,271.1 L540.1,269.9 M547.9,270.0 L541.0,268.3 M548.6,269.2 L542.0,267.1 M549.6,268.2 L543.5,265.7 M550.6,267.5 L545.0,264.7 M551.9,266.8 L547.0,263.5 M553.2,266.2 L548.8,262.7 M554.8,265.6 L551.2,261.8 M556.2,265.2 L553.3,261.2 M558.0,264.8 L556.0,260.7 M559.5,264.6 L558.2,260.4 M561.4,264.5 L561.1,260.2 M563.0,264.5 L563.3,260.2 M564.9,264.6 L566.2,260.4 M566.4,264.8 L568.4,260.7 M568.2,265.2 L571.1,261.2 M569.6,265.6 L573.2,261.8 M571.2,266.2 L575.6,262.7 M572.5,266.8 L577.4,263.5 M573.8,267.5 L579.4,264.7 M574.8,268.2 L580.9,265.7 M575.8,269.2 L582.4,267.1 M576.5,270.0 L583.4,268.3 M577.1,271.1 L584.3,269.9 M577.5,271.9 L584.9,271.2" class="s" stroke-width="0.65"/>
<ellipse cx="562.4" cy="273.7" rx="15.5" ry="9" class="w" stroke-width="0.8"/>
<ellipse cx="562.4" cy="274.3" rx="10" ry="5.6" class="s" stroke-width="0.5"/>
<!-- shaft -->
<path d="M558,258.5 L558,274 Q562,276.5 566,274 L566,258.5" class="w" stroke-width="0.92"/>
<ellipse cx="562" cy="258.5" rx="4" ry="1.8" class="w" stroke-width="0.92"/>
<path d="M556,273 Q562,278 568,273" class="s" stroke-width="0.72"/>
<!-- screw 49 -->
<path d="M589.8,301.5 Q590,300 592.5,300 Q595,300 595,301.5 L595,310.5 L589.8,310.5 Z" class="w" stroke-width="0.82"/>
<path d="M589.8,303 l5.2,1 M589.8,305 l5.2,1 M589.8,307 l5.2,1 M589.8,309 l5.2,1" class="s" stroke-width="0.50"/>
<path d="M588,311 Q588,309.5 592.4,309.5 Q596.6,309.5 596.6,311 L596.6,314 Q596.6,316.5 592.4,316.5 Q588,316.5 588,314 Z" class="w" stroke-width="0.82"/>
<ellipse cx="592.4" cy="311" rx="4.3" ry="1.4" class="s" stroke-width="0.55"/>
<!-- bracket 31/832/49 -->
<path d="M615.5,265.8 H622.5 V309.5 H615.5 M622.5,278.1 H630.5 M599.9,287.2 H622.5" class="ld" stroke-width="1.10"/>
<path d="M586,265.8 H602.9" class="ld" stroke-width="0.92"/>
<path d="M597.4,309.5 H602.9" class="ld" stroke-width="0.92"/>
<path d="M562.2,330 V368" class="ld" stroke-width="0.82"/>
<!-- guard 652 -->
<path d="M615.8,351.1 C600,343 585,339.5 570,338.3 C555,337.5 540,338.8 526.3,342.7 C515,346 508,350 503.1,355.5 C496,362 491,367 489.3,371.7 C487,376 486.3,380 486.2,384 C485.8,390 485.9,397 486.5,403.1 C487.5,408 488.5,411 490,413.2 C492.5,417 494.5,419.3 497,421.2 C500,423.5 502.5,425 505.1,426.2 L509.1,427.7 Q512.3,428.6 512.1,426.8 L510.8,425.8 L510.6,412.5 L525,402.6 L543,389.5 L557,380 L589.8,365.4 L597.6,361.9 L613.2,370.2 L616.7,368.9 L616.7,351.5 Z" class="w" stroke-width="1.3"/>
<path d="M488,380 C488.8,385 489.8,388.5 491,392 C493,397 495,400.5 498,404.1 C501.5,407.5 505,410.5 509.1,413.2" class="s" stroke-width="0.7"/>
<path d="M487,393 C491,401 498,408.5 508,415.2" class="s" stroke-width="0.4"/>
<path d="M508.6,413.2 L508.6,427.2" class="s" stroke-width="0.6"/>
<path d="M509.1,413.2 L510.6,412.5 M509.6,414.2 L525.5,404.3" class="s" stroke-width="0.6"/>
<path d="M614.5,351.5 L589.8,365.4 M614.5,353.6 L591,367 M614.5,351.5 L614.5,369.5" class="s" stroke-width="0.7"/>
<!-- ghost arc -->
<path d="M537,370 C530,372 527,377 528,382 C529,386 532,389 536,390" class="s" stroke-width="0.45"/>
<!-- collar -->
<path d="M536.5,361 L537,373.6 C539,379 543,382.5 549.7,383.5 L576.3,391 C582,388 588,380 590.3,374.8 L591.4,367.8 L588.1,361 Z" class="w" stroke-width="1.05"/>
<ellipse cx="562.3" cy="361" rx="25.8" ry="12.4" class="w" stroke-width="1.05"/>
<ellipse cx="562.4" cy="361.4" rx="23.8" ry="10.9" class="s" stroke-width="0.6"/>
<path d="M541.6,369.5 C547,365 554,362.6 562.4,362.6 C571,362.6 578,365 583.3,369.5" class="s" stroke-width="1.05"/>
<path d="M537.2,366 C541,372 546,376 552,377.5 M571.7,377 C578,375.5 584,372 588.3,366.5" class="s" stroke-width="0.6"/>
<path d="M584.5,352.5 L585,362 M586.5,354 L587,363" class="s" stroke-width="0.4"/>
<!-- clamp lugs -->
<g class="w" stroke-width="0.85">
<path d="M548.5,383 Q547.5,380 550.5,379.5 L553.5,380 Q555.3,381 554.8,384 Q554,386.5 551,386.5 Q548.8,386 548.5,383 Z"/>
<path d="M552,389 Q551.5,386.5 554,386.5 Q556.5,386.8 556.5,389.5 Q556,392.5 553.5,392.5 Q551.8,392 552,389 Z"/>
<path d="M556.5,380 Q557,378 559,378.2 Q561,378.5 560.8,381 L560.3,386 Q559.5,388.5 557.5,388 Q556,387.5 556.2,385 Z"/>
<path d="M562.5,381 Q562.5,379 565,379 Q567.5,379.3 567.3,381.5 L567,385 Q566.5,387 564.5,386.8 Q562.5,386.5 562.5,384.5 Z"/>
<path d="M568.5,379.5 Q569,377.5 571,377.8 Q572.8,378.2 572.8,380.2 L572.5,382.5 Q572,384.2 570.2,384 Q568.5,383.7 568.5,381.8 Z"/>
<path d="M572.5,379.5 Q572.5,377 575,377.2 Q577.3,377.6 577.3,380 L577,383 Q576.3,385 574.3,384.7 Q572.5,384.3 572.5,382.5 Z"/>
</g>
<path d="M560.5,390 L563,391.5 M575,390.5 L577.5,389.5" class="s" stroke-width="0.9"/>
<!-- flange 803 -->
<path d="M540.3,409.5 L541,414.5 C543,422 552,426.9 562.4,426.9 C573,426.9 582,422 584,414.5 L584.7,409.5 Z" class="w" stroke-width="1.15"/>
<ellipse cx="562.5" cy="409.5" rx="22.2" ry="12.4" class="w" stroke-width="1.15"/>
<path d="M541.8,413.5 C545,420 553,423.7 562.4,423.7 C572,423.7 580,420 583.3,413.5" class="s" stroke-width="0.55"/>
<ellipse cx="562.5" cy="409.3" rx="20" ry="10.5" class="s" stroke-width="0.45"/>
<ellipse cx="562.5" cy="409.6" rx="18.3" ry="9.2" class="s" stroke-width="0.45"/>
<path d="M551.5,405 C553,402 557,401 562,401 C567.5,401 572,402 573.9,404.5 C574.5,407 573,410 569.5,412.5 C567,414 564.5,414.7 561.5,414.7 C556,414.7 552.5,413 551,410.5 C550.4,408.5 550.6,406.5 551.5,405 Z" class="s" stroke-width="0.75"/>
<ellipse cx="562.2" cy="410" rx="7.6" ry="4" class="s" stroke-width="0.75"/>
<ellipse cx="562.2" cy="412" rx="5.6" ry="1.9" class="s" stroke-width="1.1"/>
<!-- o-ring 804 -->
<path d="M549.5,429.5 C546.5,431 545.6,433 545.6,435 C545.6,439.5 553,442.3 562.3,442.3 C571.6,442.3 578.9,439.5 578.9,435 C578.9,433 577.5,431 575,429.5" class="s" stroke-width="1.9"/>
<!-- nut 805 -->
<path d="M540.5,457.3 L541.2,463.8 C543.5,471 551.5,475.7 562.4,475.7 C573.5,475.7 582,471 584.3,463.8 L584.7,457.3 Z" class="w" stroke-width="1.15"/>
<ellipse cx="562.5" cy="457.3" rx="22.1" ry="12.2" class="w" stroke-width="1.15"/>
<ellipse cx="562.7" cy="458.2" rx="15.4" ry="8.5" class="s" stroke-width="0.75"/>
<path d="M548,461.5 C551,465.5 556,467.2 562.7,467.2 C569.5,467.2 574.5,465.5 577.5,461.5" class="s" stroke-width="0.5"/>
<ellipse cx="562.4" cy="458.3" rx="8.3" ry="4.5" class="s" stroke-width="0.8"/>
<path d="M555.5,457 Q562.4,454.5 569.3,457 M554.8,459 Q562.4,456.5 570,459 M555.3,461 Q562.4,458.5 569.5,461" class="s" stroke-width="0.5"/>
<ellipse cx="549.9" cy="451.3" rx="1.9" ry="1.1" class="w" stroke-width="0.75"/>
<ellipse cx="575" cy="450.6" rx="1.9" ry="1.1" class="w" stroke-width="0.75"/>
<ellipse cx="550.2" cy="464.9" rx="1.9" ry="1.1" class="w" stroke-width="0.75"/>
<ellipse cx="574.3" cy="464.9" rx="1.9" ry="1.1" class="w" stroke-width="0.75"/>
<!-- leaders 803/804/805 -->
<path d="M586.8,412.4 H622.5 V432.5 H613.2 M622.5,422.3 H629.5 M581.8,432.5 H596.5 M586,460.2 H629.5" class="ld" stroke-width="1.10"/>
<path d="M618.7,359.4 H630.5" class="ld" stroke-width="1.10"/>
<!-- icon 803 -->
<path d="M651.1,413.8 V432" class="s" stroke-width="0.55"/>
<rect x="651.3" y="414.6" width="14.5" height="3.8" class="w" stroke-width="0.55"/>
<path d="M651.5,414.8 L658,418.2 M658,414.8 L651.5,418.2 M658,414.8 L664.5,418.2 M664.5,414.8 L658,418.2" class="s" stroke-width="0.50"/>
<rect x="651.3" y="420.4" width="8.8" height="7.4" class="w" stroke-width="0.55"/>
<rect x="651.3" y="428" width="8.8" height="2.6" class="w" stroke-width="0.55"/>
<path d="M666,414.5 L674,414.5 L678.1,418.5 L682.2,419.2 L682.2,426 L669.3,426 L667.3,430 L659.9,430.7 L659.9,420.5 L665.3,417.8 Z" fill="#0a0a0a"/>
<circle cx="670.7" cy="424.4" r="1.3" fill="#fff"/>
<!-- icon 805 -->
<path d="M652.4,451.6 V467.2" class="s" stroke-width="0.55"/>
<rect x="652.6" y="453.2" width="11.4" height="1.8" class="w" stroke-width="0.55"/>
<rect x="652.6" y="455.3" width="11.4" height="9.3" class="w" stroke-width="0.72"/>
<rect x="652.6" y="464.8" width="11.4" height="2.2" class="w" stroke-width="0.55"/>
<path d="M663.9,453 L688.2,453 L688.2,463.1 L674,463.1 L674,467.2 L663.9,467.2 Z" fill="#0a0a0a"/>
<rect x="676.1" y="454.5" width="8.1" height="7.3" fill="#fff"/>
<!-- spanner 802 -->
<path d="M369,392.8 Q375,391.5 379,393.3 L503.5,458.5 Q506,460.5 505,463 L504,466.5 Q502.5,469 499,470.5 L488.7,475.5 Q485,476.5 482.4,475.5 L367,406 Q364,404 364.3,400 L364.8,397 Q365.5,394 369,392.8 Z" class="w" stroke-width="1.15"/>
<path d="M365,400.5 Q366,402.5 368.5,403.5 L483,470.5 Q486,472 489,470.5 L504,463.5" class="s" stroke-width="0.60"/>
<ellipse cx="477.5" cy="457.8" rx="7.8" ry="4.2" transform="rotate(10 477.5 457.8)" class="s" stroke-width="0.82"/>
<path d="M470.5,456.5 Q472,452.5 478,452.5 Q484.5,453 485.5,456" class="s" stroke-width="0.55"/>
<!-- pins -->
<path d="M463.3,444.5 Q463.3,443 464.8,443 Q466.3,443 466.3,444.5 L466.3,450.8 Q466.3,452.3 464.8,452.3 Q463.3,452.3 463.3,450.8 Z" class="w" stroke-width="0.72"/>
<ellipse cx="464.8" cy="444.5" rx="1.5" ry="0.8" class="s" stroke-width="0.55"/>
<path d="M487.2,457 Q487.2,455.5 488.7,455.5 Q490.2,455.5 490.2,457 L490.2,463.3 Q490.2,464.8 488.7,464.8 Q487.2,464.8 487.2,463.3 Z" class="w" stroke-width="0.72"/>
<ellipse cx="488.7" cy="457" rx="1.5" ry="0.8" class="s" stroke-width="0.55"/>
<path d="M432.9,407.7 V419.7" class="ld" stroke-width="0.87"/>
<path d="M261.5,140 V213" class="ld" stroke-width="0.92"/>
<g class="ld" stroke-width="0.87">
<path d="M382.4,14.3 V49"/>
<path d="M435.4,38.9 V48"/>
<path d="M474.4,59 V75"/>
<path d="M330.8,109.5 L340.3,114.2"/>
<path d="M319.7,118.8 L328.4,122.9"/>
<path d="M637.6,111 V122.8"/>
<path d="M330.3,163.7 V189"/>
<path d="M350.3,174.4 V202.5"/>
<path d="M441.5,217 V227.6"/>
<path d="M597.4,223.4 H629.5"/>
</g>
<path d="M505,180 L517,186 M505,180 V306.8 L473,289.2" class="ld" stroke-width="0.82"/>
<g class="ld" stroke-width="0.87">
<path d="M159.3,308 V291"/>
<path d="M216.3,340 V330.8"/>
<path d="M264,367 V325.5"/>
<path d="M297.4,386.4 V373.5"/>
</g>
<path d="M562.2,330 V368" class="ld" stroke-width="0.82"/>

<rect x="26" y="80" width="8.5" height="8.5" fill="#a4dcf0"/>
<text x="30.2" y="87.0" class="lb" textLength="4.30" lengthAdjust="spacingAndGlyphs">5</text>
<rect x="95.2" y="80" width="8.6" height="8.5" fill="#a4dcf0"/>
<text x="99.5" y="87.0" class="lb" textLength="4.30" lengthAdjust="spacingAndGlyphs">6</text>
<rect x="82.9" y="128.3" width="8.8" height="8.5" fill="#a4dcf0"/>
<text x="87.3" y="135.3" class="lb" textLength="4.30" lengthAdjust="spacingAndGlyphs">7</text>
<rect x="79.9" y="137.4" width="13.6" height="9.3" fill="#a4dcf0"/>
<text x="86.7" y="144.8" class="lb" textLength="8.60" lengthAdjust="spacingAndGlyphs">47</text>
<rect x="183.5" y="64.8" width="17.6" height="9.3" fill="#a4dcf0"/>
<text x="192.3" y="72.2" class="lb" textLength="12.90" lengthAdjust="spacingAndGlyphs">105</text>
<rect x="233.9" y="62.9" width="17.7" height="9.7" fill="#a4dcf0"/>
<text x="242.8" y="70.5" class="lb" textLength="12.90" lengthAdjust="spacingAndGlyphs">811</text>
<rect x="213.4" y="82" width="17.1" height="9.8" fill="#a4dcf0"/>
<text x="221.9" y="89.7" class="lb" textLength="12.90" lengthAdjust="spacingAndGlyphs">806</text>
<rect x="252.3" y="104" width="17.7" height="9.3" fill="#a4dcf0"/>
<text x="261.1" y="111.4" class="lb" textLength="12.90" lengthAdjust="spacingAndGlyphs">806</text>
<rect x="378.2" y="5.5" width="7.5" height="8.8" fill="#a4dcf0"/>
<text x="381.9" y="12.7" class="lb" textLength="4.30" lengthAdjust="spacingAndGlyphs">1</text>
<rect x="431.4" y="30.2" width="8.3" height="8.7" fill="#a4dcf0"/>
<text x="435.5" y="37.3" class="lb" textLength="4.30" lengthAdjust="spacingAndGlyphs">9</text>
<rect x="466.8" y="50.3" width="13.6" height="8.7" fill="#a4dcf0"/>
<text x="473.6" y="57.4" class="lb" textLength="8.60" lengthAdjust="spacingAndGlyphs">23</text>
<rect x="318.1" y="102.3" width="12.5" height="8.7" fill="#a4dcf0"/>
<text x="324.4" y="109.4" class="lb" textLength="8.60" lengthAdjust="spacingAndGlyphs">22</text>
<rect x="307.3" y="111" width="13.4" height="9.4" fill="#a4dcf0"/>
<text x="314.0" y="118.5" class="lb" textLength="8.60" lengthAdjust="spacingAndGlyphs">18</text>
<rect x="628" y="102.2" width="18.9" height="8.8" fill="#a4dcf0"/>
<text x="637.5" y="109.3" class="lb" textLength="12.90" lengthAdjust="spacingAndGlyphs">801</text>
<rect x="324.6" y="155" width="11.4" height="8.7" fill="#a4dcf0"/>
<text x="330.3" y="162.1" class="lb" textLength="8.60" lengthAdjust="spacingAndGlyphs">26</text>
<rect x="343.5" y="165.8" width="13.0" height="8.6" fill="#a4dcf0"/>
<text x="350.0" y="172.9" class="lb" textLength="8.60" lengthAdjust="spacingAndGlyphs">28</text>
<rect x="432.5" y="208.2" width="18.8" height="8.8" fill="#a4dcf0"/>
<text x="441.9" y="215.3" class="lb" textLength="12.90" lengthAdjust="spacingAndGlyphs">830</text>
<rect x="629.5" y="219.3" width="17.4" height="8.6" fill="#a4dcf0"/>
<text x="638.2" y="226.4" class="lb" textLength="12.90" lengthAdjust="spacingAndGlyphs">821</text>
<rect x="602.9" y="261.3" width="12.6" height="9.0" fill="#e8461c"/>
<text x="609.2" y="268.6" class="lb" style="fill:#5a0800;stroke:#5a0800" textLength="8.60" lengthAdjust="spacingAndGlyphs">31</text>
<rect x="630.5" y="273.4" width="18.4" height="9.2" fill="#a4dcf0"/>
<text x="639.7" y="280.8" class="lb" textLength="12.90" lengthAdjust="spacingAndGlyphs">832</text>
<rect x="602.9" y="305.8" width="12.6" height="8.8" fill="#a4dcf0"/>
<text x="609.2" y="313.0" class="lb" textLength="8.60" lengthAdjust="spacingAndGlyphs">49</text>
<rect x="153" y="308" width="12.9" height="8.8" fill="#a4dcf0"/>
<text x="159.4" y="315.1" class="lb" textLength="8.60" lengthAdjust="spacingAndGlyphs">50</text>
<rect x="207" y="340" width="18.6" height="10.2" fill="#a4dcf0"/>
<text x="216.3" y="347.9" class="lb" textLength="12.90" lengthAdjust="spacingAndGlyphs">808</text>
<rect x="259.7" y="367" width="8.7" height="10.1" fill="#a4dcf0"/>
<text x="264.0" y="374.8" class="lb" textLength="4.30" lengthAdjust="spacingAndGlyphs">1</text>
<rect x="291.6" y="386.4" width="11.5" height="10.1" fill="#a4dcf0"/>
<text x="297.4" y="394.2" class="lb" textLength="8.60" lengthAdjust="spacingAndGlyphs">50</text>
<rect x="630.5" y="355" width="16.4" height="8.8" fill="#a4dcf0"/>
<text x="638.7" y="362.1" class="lb" textLength="12.90" lengthAdjust="spacingAndGlyphs">652</text>
<rect x="423.4" y="398.4" width="17.6" height="9.3" fill="#a4dcf0"/>
<text x="432.2" y="405.8" class="lb" textLength="12.90" lengthAdjust="spacingAndGlyphs">802</text>
<rect x="629.5" y="417.6" width="16.9" height="9.4" fill="#a4dcf0"/>
<text x="638.0" y="425.1" class="lb" textLength="12.90" lengthAdjust="spacingAndGlyphs">803</text>
<rect x="596.5" y="427.8" width="16.7" height="9.1" fill="#a4dcf0"/>
<text x="604.9" y="435.1" class="lb" textLength="12.90" lengthAdjust="spacingAndGlyphs">804</text>
<rect x="629.5" y="455.8" width="16.9" height="8.8" fill="#a4dcf0"/>
<text x="638.0" y="463.0" class="lb" textLength="12.90" lengthAdjust="spacingAndGlyphs">805</text>
</svg>
</body></html>
